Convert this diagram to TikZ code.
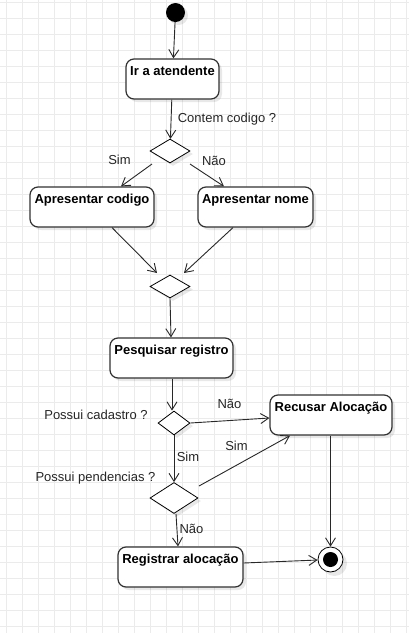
\documentclass[tikz,border=0pt]{standalone}
\usepackage{fontspec}
\setmainfont{Liberation Sans}
\usepackage{tikz}
\usetikzlibrary{shapes.geometric, arrows.meta, calc, shadows}
\definecolor{mygrid}{RGB}{235,235,235}
\definecolor{myedge}{RGB}{40,40,40}
\definecolor{myborder}{RGB}{50,50,50}
\tikzset{
  actbox/.style={rectangle, draw=myborder, fill=white, rounded corners=8pt,
    line width=1.2pt, minimum height=40pt, inner xsep=0pt, inner ysep=0pt,
    text height=16pt, text depth=24pt, font=\fontsize{13pt}{15pt}\selectfont\bfseries,
    drop shadow={shadow xshift=3pt, shadow yshift=-3pt, opacity=0.09, fill=black}},
  decision/.style={diamond, draw=black, fill=white, line width=0.8pt,
    inner sep=0pt, minimum width=40pt, minimum height=24pt,
    drop shadow={shadow xshift=3pt, shadow yshift=-3pt, opacity=0.09, fill=black}},
  initnode/.style={circle, fill=black, inner sep=0pt, minimum size=19pt,
    drop shadow={shadow xshift=3pt, shadow yshift=-3pt, opacity=0.09, fill=black}},
  endouter/.style={circle, draw=black, fill=white, line width=0.8pt,
    inner sep=0pt, minimum size=25pt,
    drop shadow={shadow xshift=4pt, shadow yshift=-4pt, opacity=0.09, fill=black}},
  endinner/.style={circle, fill=black, inner sep=0pt, minimum size=15pt},
  lbl/.style={inner sep=0pt, text height=9.5pt, text depth=0pt,
    font=\fontsize{13pt}{15pt}\selectfont, text=black!85},
  flow/.style={-{Straight Barb[length=8pt, width=10pt]}, line width=0.9pt, color=myedge},
  gridline/.style={line width=0.8pt, color=mygrid}
}

\begin{document}
\begin{tikzpicture}[x=1pt, y=-1pt]
  \useasboundingbox (0,0) rectangle (409,633);
  \fill[white] (0,0) rectangle (409,633);
  % grid
  \foreach \gx in {6,22,...,406}
    \draw[gridline] (\gx,0) -- (\gx,633);
  \foreach \gy in {2,18,...,626}
    \draw[gridline] (0,\gy) -- (409,\gy);

  % states
  \node[initnode] (start) at (175.5,12.5) {};
  \node[actbox, minimum width=93pt] (irat) at (172.5,79) {Ir a atendente};
  \node[decision] (dcod) at (170,151) {};
  \node[actbox, minimum width=124pt] (acod) at (92,207) {Apresentar codigo};
  \node[actbox, minimum width=115pt] (anome) at (255.5,207) {Apresentar nome};
  \node[decision, minimum height=23pt] (dmerge) at (170,286.5) {};
  \node[actbox, minimum width=123pt] (pesq) at (171.5,358) {Pesquisar registro};
  \node[decision, minimum width=32pt] (dcad) at (174,423) {};
  \node[actbox, minimum width=122pt] (recusar) at (331,415) {Recusar Alocação};
  \node[decision, minimum width=48pt, minimum height=31pt] (dpend) at (174,498) {};
  \node[actbox, minimum width=125pt] (reg) at (180.5,567) {Registrar alocação};
  \node[endouter] (stop) at (330.5,559.5) {};
  \node[endinner] (stopdot) at (stop) {};

  % labels
  \node[lbl] (qcod) at (227,118) {Contem codigo ?};
  \node[lbl] (simcod) at (119.5,160) {Sim};
  \node[lbl] (naocod) at (214,161) {Não};
  \node[lbl] (qcad) at (96,415) {Possui cadastro ?};
  \node[lbl] (naocad) at (229.5,404) {Não};
  \node[lbl] (simcad) at (188,457) {Sim};
  \node[lbl] (simpend) at (236.5,446) {Sim};
  \node[lbl] (qpend) at (95.5,477) {Possui pendencias ?};
  \node[lbl] (naopend) at (191.5,529) {Não};

  % transitions
  \draw[flow] (start) -- (irat);
  \draw[flow] (irat) -- (dcod);
  \draw[flow] ($(dcod)+(-18,13)$) -- ($(acod.north)+(29,0)$);
  \draw[flow] ($(dcod)+(20,13)$) -- ($(anome.north)+(-31.5,0)$);
  \draw[flow] ($(acod.south)+(20,0)$) -- ($(dmerge)+(-13,-13.5)$);
  \draw[flow] ($(anome.south)+(-22.5,0)$) -- ($(dmerge)+(14,-13.5)$);
  \draw[flow] (dmerge.south) -- ($(pesq.north)+(-0.5,0)$);
  \draw[flow] ($(pesq.south)+(0.5,0)$) -- ($(dcad.north)+(-2,0)$);
  \draw[flow] (dcad.east) -- ($(recusar.west)+(0,3)$);
  \draw[flow] (dcad.south) -- (dpend.north);
  \draw[flow] ($(dpend)+(25,-12)$) -- ($(recusar.south)+(-41,0)$);
  \draw[flow] ($(dpend.south)+(2,0)$) -- ($(reg.north)+(-2.5,0)$);
  \draw[flow] ($(reg.east)+(0,-4)$) -- (stop);
  \draw[flow] ($(recusar.south)+(-0.5,0)$) -- (stop.north);
\end{tikzpicture}
\end{document}
